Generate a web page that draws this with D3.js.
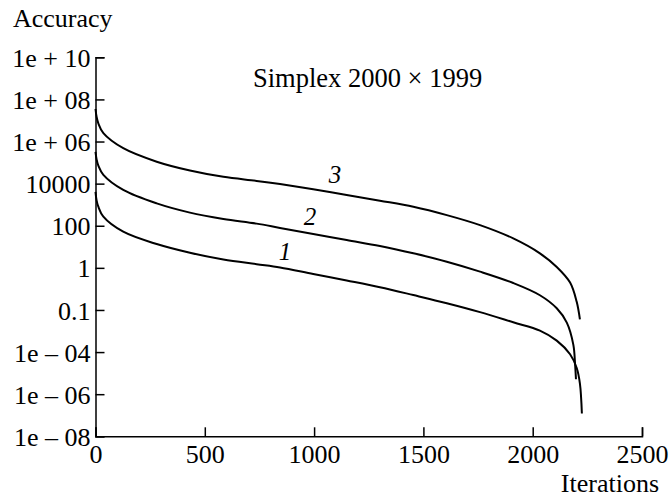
<!doctype html>
<meta charset="utf-8">
<style>
    body { margin: 0; background: #fff; }
    text { font-family: "Liberation Serif", "Times New Roman", serif; fill: #000; }
    .axis path, .axis line { stroke: #000; stroke-width: 1.5; }
</style>
<html>
<head>
    <script src="https://d3js.org/d3.v7.min.js"></script>
</head>
<body>
<div id="chart"></div>
<script>

    // iterations and accuracy
    var iter3 = [0, 5, 13, 36, 127, 280, 432, 585, 737, 844, 996, 1149, 1301, 1454, 1607, 1759, 1911, 2033, 2110, 2171, 2201, 2216];
    var acc3 = [3.5e7, 1.5e7, 7.2e6, 2.5e6, 4.8e5, 1.1e5, 4.2e4, 2.1e4, 1.35e4, 9.5e3, 5.4e3, 2.9e3, 1.55e3, 800, 320, 107, 25, 4.9, 1.1, 0.2, 0.025, 0.0036];

    var iter2 = [0, 5, 13, 36, 127, 280, 432, 585, 737, 844, 996, 1149, 1301, 1454, 1607, 1759, 1911, 2033, 2110, 2156, 2186, 2194, 2198];
    var acc2 = [3.2e5, 1.4e5, 7.1e4, 2.6e4, 5.0e3, 1.15e3, 420, 210, 126, 79, 41, 21, 11, 4.9, 1.95, 0.66, 0.19, 0.05, 0.012, 0.0025, 2.2e-4, 2.5e-5, 5.1e-6];

    var iter1 = [0, 5, 13, 36, 127, 280, 432, 585, 737, 844, 996, 1149, 1301, 1454, 1607, 1759, 1911, 2033, 2110, 2171, 2201, 2216, 2225];
    var acc1 = [4.1e3, 1.6e3, 800, 270, 52, 13.5, 5.2, 2.5, 1.5, 1.05, 0.51, 0.25, 0.12, 0.051, 0.021, 0.0079, 0.0026, 0.00105, 3.5e-4, 7.9e-5, 1.8e-5, 3.2e-6, 1.2e-7];

    var yTicks = [1e10, 1e8, 1e6, 1e4, 1e2, 1, 1e-2, 1e-4, 1e-6, 1e-8];
    var yTickLabels = ["1e + 10", "1e + 08", "1e + 06", "10000", "100", "1", "0.1", "1e \u2013 04", "1e \u2013 06", "1e \u2013 08"];
    var xTicks = [0, 500, 1000, 1500, 2000, 2500];

    var curveNames = ["1", "2", "3"];
    var labelIter = [867, 981, 1096];
    var labelAcc = [2.4, 107, 1.07e4];

    var width = 670, height = 499;
    var margin = {top: 57.3, left: 95.5, right: 28, bottom: 62.7};

    var svg = d3.select("#chart")
        .append("svg")
        .attr("width", width)
        .attr("height", height);

    var xScale = d3.scaleLinear()
        .domain([0, 2500])
        .range([margin.left, width - margin.right]);
    var yScale = d3.scaleLog()
        .domain([1e-8, 1e10])
        .range([height - margin.bottom, margin.top]);

    // x axis, ticks pointing inside
    var xAxis = svg.append("g")
        .attr("class", "axis")
        .attr("transform", "translate(0," + yScale(1e-8) + ")")
        .call(d3.axisTop(xScale).tickValues(xTicks).tickSizeOuter(0).tickSize(9).tickFormat(""));
    xAxis.selectAll(".tick").append("text")
        .attr("y", 27)
        .attr("text-anchor", "middle")
        .style("font-size", "26px")
        .text(function(d) { return d; });

    // y axis, ticks pointing inside
    var yAxis = svg.append("g")
        .attr("class", "axis")
        .attr("transform", "translate(" + xScale(0) + ",0)")
        .call(d3.axisRight(yScale).tickValues(yTicks).tickSizeOuter(0).tickSize(9).tickFormat(""));
    yAxis.selectAll(".tick").append("text")
        .attr("x", -5)
        .attr("dy", "0.35em")
        .attr("text-anchor", "end")
        .style("font-size", "26px")
        .text(function(d, i) { return yTickLabels[i]; });

    // curves
    var line = d3.line()
        .x(function(d) { return xScale(d[0]); })
        .y(function(d) { return yScale(d[1]); })
        .curve(d3.curveCatmullRom.alpha(0.5));

    var series = [d3.zip(iter1, acc1), d3.zip(iter2, acc2), d3.zip(iter3, acc3)];
    svg.selectAll(".curve")
        .data(series)
        .enter().append("path")
        .attr("class", "curve")
        .attr("fill", "none")
        .attr("stroke", "#000")
        .attr("stroke-width", 2)
        .attr("d", line);

    // curve numbers
    svg.selectAll(".num")
        .data(curveNames)
        .enter().append("text")
        .attr("class", "num")
        .attr("x", function(d, i) { return xScale(labelIter[i]); })
        .attr("y", function(d, i) { return yScale(labelAcc[i]); })
        .attr("text-anchor", "middle")
        .style("font-size", "25px")
        .style("font-style", "italic")
        .text(function(d) { return d; });

    svg.append("text")
        .attr("x", 253)
        .attr("y", 87)
        .style("font-size", "26.5px")
        .text("Simplex 2000 \u00d7 1999");

    svg.append("text")
        .attr("x", 13)
        .attr("y", 27)
        .style("font-size", "26px")
        .text("Accuracy");

    svg.append("text")
        .attr("x", 659)
        .attr("y", 492)
        .attr("text-anchor", "end")
        .style("font-size", "26px")
        .text("Iterations");

</script>
</body>
</html>
